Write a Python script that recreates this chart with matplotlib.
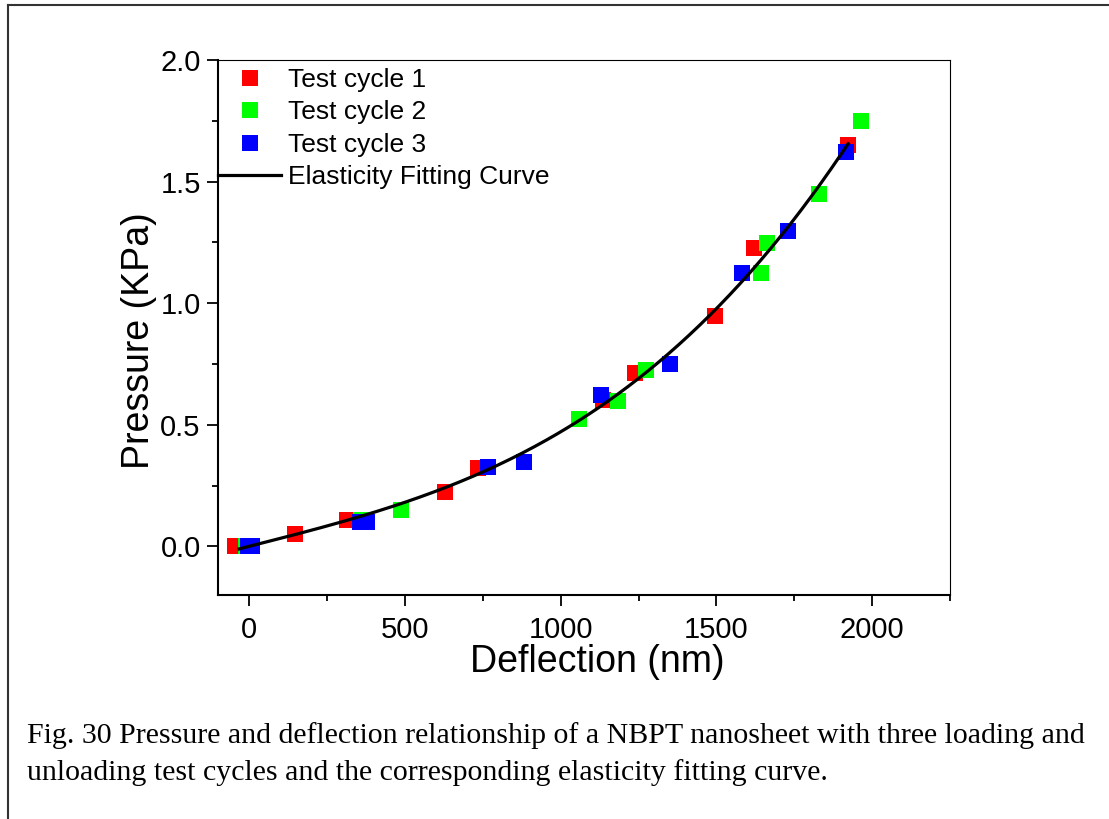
import numpy as np
import matplotlib
matplotlib.use('Agg')
from matplotlib import pyplot as plt
from matplotlib.ticker import MultipleLocator
from matplotlib.lines import Line2D

# deflection (nm) and pressure (KPa)
cycle1_x = [-45, 147, 314, 628, 735, 1135, 1239, 1495, 1622, 1921]
cycle1_y = [0.0, 0.049, 0.11, 0.224, 0.324, 0.600, 0.711, 0.948, 1.225, 1.650]
cycle2_x = [-11, 359, 487, 1060, 1185, 1273, 1643, 1664, 1830, 1964]
cycle2_y = [0.0, 0.110, 0.148, 0.523, 0.598, 0.724, 1.125, 1.248, 1.449, 1.750]
cycle3_x = [-5, 10, 357, 379, 767, 881, 1129, 1350, 1581, 1731, 1916]
cycle3_y = [0.0, 0.0, 0.100, 0.100, 0.325, 0.347, 0.624, 0.749, 1.125, 1.298, 1.623]

labels = ['Test cycle 1', 'Test cycle 2', 'Test cycle 3', 'Elasticity Fitting Curve']
colors = ['#ff0000', '#00ff00', '#0000ff']
fit_range = [-32, 1923]

caption = ('Fig. 30 Pressure and deflection relationship of a NBPT nanosheet with three loading and\n'
           'unloading test cycles and the corresponding elasticity fitting curve.')

plt.rcParams['font.family'] = ['Liberation Sans', 'DejaVu Sans']

fig = plt.figure(figsize=(11.09, 8.19), dpi=100)
ax = fig.add_axes([218 / 1109, 1 - 595 / 819, (950 - 218) / 1109, (595 - 60) / 819])

series = [(cycle1_x, cycle1_y), (cycle2_x, cycle2_y), (cycle3_x, cycle3_y)]
for (xs, ys), c in zip(series, colors):
    ax.plot(xs, ys, 's', color=c, markersize=11.5, markeredgewidth=0, zorder=2)

# elasticity fit P = a*d + b*d^3 (d in um), least squares over all cycles
all_x = np.array(cycle1_x + cycle2_x + cycle3_x) / 1000.0
all_y = np.array(cycle1_y + cycle2_y + cycle3_y)
A = np.column_stack([all_x, all_x ** 3])
coef = np.linalg.lstsq(A, all_y, rcond=None)[0]
d = np.linspace(fit_range[0], fit_range[1], 300) / 1000.0
ax.plot(d * 1000, coef[0] * d + coef[1] * d ** 3, color='black', lw=2.3, zorder=3)

ax.set_xlim(-100, 2250)
ax.set_ylim(-0.2, 2.0)
ax.xaxis.set_major_locator(MultipleLocator(500))
ax.xaxis.set_minor_locator(MultipleLocator(250))
ax.yaxis.set_major_locator(MultipleLocator(0.5))
ax.yaxis.set_minor_locator(MultipleLocator(0.25))
ax.yaxis.set_major_formatter(matplotlib.ticker.FormatStrFormatter('%.1f'))
ax.tick_params(which='both', direction='out', top=False, right=False, width=1.3, labelsize=21)
ax.tick_params(which='major', length=8, pad=4.5)
ax.tick_params(axis='x', which='major', pad=7)
ax.tick_params(which='minor', length=4.5)
for s in ['left', 'bottom']:
    ax.spines[s].set_linewidth(1.5)
for s in ['top', 'right']:
    ax.spines[s].set_linewidth(0.8)

ax.set_xlabel('Deflection (nm)', fontsize=27)
ax.set_ylabel('Pressure (KPa)', fontsize=27)
ax.xaxis.set_label_coords((597 - 218) / 732, -0.091)
ax.yaxis.set_label_coords(-0.084, (595 - 341) / 535)

handles = [Line2D([], [], ls='none', marker='s', color=c, markersize=11.5, markeredgewidth=0) for c in colors]
handles.append(Line2D([], [], color='black', lw=2.3))
ax.legend(handles, labels, loc='upper left', bbox_to_anchor=(0, 1 - 8 / 535), frameon=False, fontsize=19,
          borderaxespad=0, borderpad=0, labelspacing=0.32, handlelength=2.4, handletextpad=0.27)

# document frame (left and top edges only)
fig.add_artist(Line2D([8 / 1109, 8 / 1109], [0, 1 - 5 / 819], color='#333333', lw=1.5))
fig.add_artist(Line2D([8 / 1109, 1], [1 - 5 / 819, 1 - 5 / 819], color='#333333', lw=1.5))

fig.text(27 / 1109, 1 - 754 / 819, caption, family='Liberation Serif', fontsize=21.5,
         va='center', ha='left', linespacing=1.45)

fig.savefig('out.png', dpi=100)
